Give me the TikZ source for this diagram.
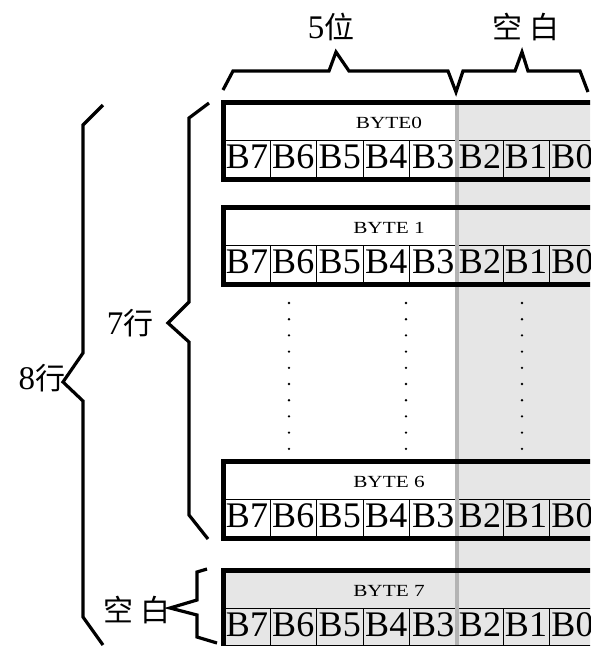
\documentclass[tikz,border=0pt]{standalone}
\usepackage{fontspec}
\setmainfont{Liberation Serif}
\newfontfamily\cjk{Noto Sans CJK SC}
\newfontfamily\bytefont{Liberation Serif}[FakeStretch=1.25]
\definecolor{blankgray}{HTML}{E6E6E6}
\definecolor{divgray}{HTML}{B4B4B4}
\begin{document}
\begin{tikzpicture}[x=1pt,y=-1pt,
  brace/.style={line width=3.2pt, line join=miter},
  boxborder/.style={line width=5pt},
  cellline/.style={line width=0.9pt},
  bitlbl/.style={anchor=base, inner sep=0pt, font=\fontsize{36}{36}\selectfont},
  bytelbl/.style={anchor=base, inner sep=0pt, font=\bytefont\fontsize{17}{17}\selectfont},
  cjklbl/.style={inner sep=0pt, font=\fontsize{30}{30}\selectfont}]
\useasboundingbox (0,0) rectangle (590,646);
\clip (0,0) rectangle (590,646);
% shaded blank columns
\fill[blankgray] (457,100) rectangle (600,660);
% boxes: top, label, fill
\foreach \t/\lab/\fl/\i in {100/BYTE0/white/0, 205/BYTE 1/white/1, 459/BYTE 6/white/6, 568/BYTE 7/blankgray/7}{
  \fill[\fl] (221,\t) rectangle (457,\t+82);
  \draw[cellline] (221,\t+40) -- (600,\t+40);
  \foreach \x in {270,316.5,363,409.5,503,549}
    \draw[cellline] (\x,\t+40) -- (\x,\t+82);
  \node[bytelbl] (byte\i) at (389,\t+28) {\lab};
  \foreach \c/\b in {247/7,293.25/6,339.75/5,386.25/4,433.25/3,480/2,526/1,572.5/0}
    \node[bitlbl] (bit\i-\b) at (\c,\t+68.5) {B\b};
}
% gray divider between data bits and blank bits
\draw[divgray, line width=4pt] (457,100) -- (457,660);
% thick box borders
\foreach \t in {100,205,459,568}
  \draw[boxborder] (223.5,\t+2.5) rectangle (615,\t+79.5);
% dotted continuation
\foreach \x in {289,406,522}
  \foreach \k in {0,...,9}
    \fill (\x,303+16.2*\k) circle[radius=1.3];
% top braces
\draw[brace] (223,90) -- (233,71) -- (329,71) -- (336,52) -- (349,71) -- (448,71) -- (456,92)
  -- (463,71) -- (515,71) -- (522,52) -- (528,71) -- (580,71) -- (588,92);
% left braces
\draw[brace] (103,105) -- (83,125) -- (83,353) -- (63,382) -- (83,401) -- (83,617) -- (103,645);
\draw[brace] (209,103) -- (189,118) -- (189,302) -- (168,323) -- (189,342) -- (189,515) -- (208,539);
\draw[brace] (207,569) -- (197,572) -- (197,600) -- (170,608) -- (197,615) -- (197,637) -- (217,643);
% labels
\node[cjklbl] (top5) at (331,27) {{\fontsize{33}{33}\selectfont 5}{\cjk 位}};
\node[cjklbl] (topblank) at (526,27) {{\cjk 空}\hspace{7pt}{\cjk 白}};
\node[cjklbl] (l7) at (130,323) {{\fontsize{33}{33}\selectfont 7}{\cjk 行}};
\node[cjklbl] (l8) at (42,378) {{\fontsize{33}{33}\selectfont 8}{\cjk 行}};
\node[cjklbl] (lblank) at (137,610) {{\cjk 空}\hspace{8pt}{\cjk 白}};
\end{tikzpicture}
\end{document}
